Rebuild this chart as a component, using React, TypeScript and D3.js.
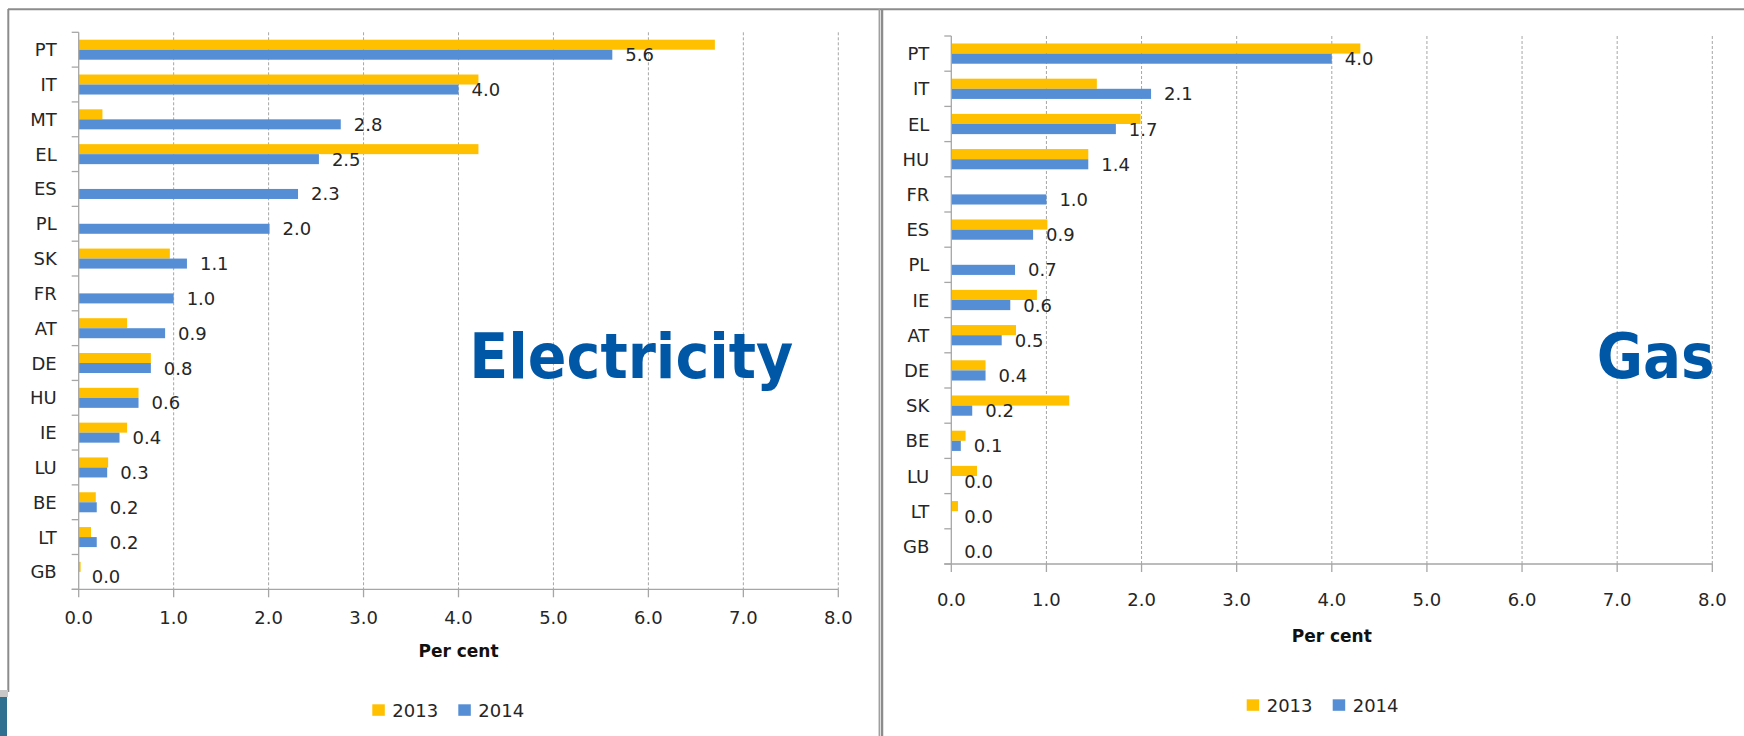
import React from "react";
import * as d3 from "d3";

// ---------- DATA ----------
const elecCategories = ["PT", "IT", "MT", "EL", "ES", "PL", "SK", "FR", "AT", "DE", "HU", "IE", "LU", "BE", "LT", "GB"];
const elec2013 = [6.7, 4.21, 0.25, 4.21, 0, 0, 0.96, 0, 0.51, 0.76, 0.63, 0.51, 0.31, 0.18, 0.13, 0.02];
const elec2014 = [5.62, 4.0, 2.76, 2.53, 2.31, 2.01, 1.14, 1.0, 0.91, 0.76, 0.63, 0.43, 0.3, 0.19, 0.19, 0.0];

const gasCategories = ["PT", "IT", "EL", "HU", "FR", "ES", "PL", "IE", "AT", "DE", "SK", "BE", "LU", "LT", "GB"];
const gas2013 = [4.3, 1.53, 1.99, 1.44, 0, 1.01, 0, 0.9, 0.68, 0.36, 1.24, 0.15, 0.27, 0.07, 0];
const gas2014 = [4.0, 2.1, 1.73, 1.44, 1.0, 0.86, 0.67, 0.62, 0.53, 0.36, 0.22, 0.1, 0, 0, 0];

const xTicks = [0, 1, 2, 3, 4, 5, 6, 7, 8];
const seriesNames = ["2013", "2014"];
const seriesColors = ["#FFC000", "#558ED5"];
const axisTitle = "Per cent";

// ---------- STYLE ----------
const FONT = "'DejaVu Sans', Verdana, sans-serif";
const TEXT = "#262626";
const AXIS = "#a6a6a6";
const GRID = "#a6a6a6";
const FRAME = "#8c8c8c";
const TITLE_COLOR = "#0057A6";

type Layout = {
  x0: number; x1: number; y0: number; y1: number;
  tickLabelDy: number; axisTitleY: number;
  legendX: number; legendY: number; legendGap2: number;
  title: string; titleX: number; titleY: number; titleLen: number;
};

const elecLayout: Layout = {
  x0: 78.7, x1: 838.3, y0: 32.3, y1: 589.3,
  tickLabelDy: 35, axisTitleY: 656.7,
  legendX: 372.3, legendY: 716.7, legendGap2: 86,
  title: "Electricity", titleX: 469.3, titleY: 377.7, titleLen: 324,
};
const gasLayout: Layout = {
  x0: 951.3, x1: 1712.3, y0: 36, y1: 564,
  tickLabelDy: 41.5, axisTitleY: 642.3,
  legendX: 1246.7, legendY: 711.7, legendGap2: 86,
  title: "Gas", titleX: 1596.7, titleY: 378.3, titleLen: 118,
};

function Panel({ cats, v13, v14, L }: { cats: string[]; v13: number[]; v14: number[]; L: Layout }) {
  const x = d3.scaleLinear().domain([0, 8]).range([L.x0, L.x1]);
  const y = d3.scaleBand<string>().domain(cats).range([L.y0, L.y1]).paddingInner(0.425).paddingOuter(0.2125);
  const sub = d3.scaleBand<string>().domain(seriesNames).range([0, y.bandwidth()]);
  const step = y.step();
  const fmt = d3.format(".1f");
  const series = [v13, v14];
  const boundaries = d3.range(cats.length + 1).map((i) => L.y0 + i * step);

  return (
    <g>
      {/* gridlines */}
      {xTicks.filter((t) => t > 0).map((t) => (
        <line key={"g" + t} x1={x(t)} x2={x(t)} y1={L.y0} y2={L.y1} stroke={GRID} strokeWidth={1} strokeDasharray="3,2" />
      ))}
      {/* bars */}
      {series.map((vals, si) =>
        cats.map((c, i) => (
          <rect key={"b" + si + c} x={x(0)} y={(y(c) as number) + (sub(seriesNames[si]) as number)}
            width={Math.max(0, x(vals[i]) - x(0))} height={sub.bandwidth()} fill={seriesColors[si]} />
        ))
      )}
      {/* value labels (2014) */}
      {cats.map((c, i) => (
        <text key={"v" + c} x={x(v14[i]) + 13}
          y={(y(c) as number) + (sub("2014") as number) + sub.bandwidth() / 2 + 6.5}
          fontFamily={FONT} fontSize={18} fill={TEXT}>{fmt(v14[i])}</text>
      ))}
      {/* vertical axis */}
      <line x1={L.x0} x2={L.x0} y1={L.y0} y2={L.y1} stroke={AXIS} strokeWidth={1.3} />
      {boundaries.map((b, i) => (
        <line key={"yt" + i} x1={L.x0 - 7} x2={L.x0} y1={b} y2={b} stroke={AXIS} strokeWidth={1.3} />
      ))}
      {cats.map((c) => (
        <text key={"yl" + c} x={L.x0 - 22} y={(y(c) as number) + y.bandwidth() / 2 + 6.5}
          textAnchor="end" fontFamily={FONT} fontSize={18} fill={TEXT}>{c}</text>
      ))}
      {/* horizontal axis */}
      <line x1={L.x0 - 7} x2={L.x1} y1={L.y1} y2={L.y1} stroke={AXIS} strokeWidth={1.3} />
      {xTicks.map((t) => (
        <g key={"xt" + t}>
          <line x1={x(t)} x2={x(t)} y1={L.y1} y2={L.y1 + 8} stroke={AXIS} strokeWidth={1.3} />
          <text x={x(t)} y={L.y1 + L.tickLabelDy} textAnchor="middle" fontFamily={FONT} fontSize={18} fill={TEXT}>{fmt(t)}</text>
        </g>
      ))}
      <text x={(L.x0 + L.x1) / 2} y={L.axisTitleY} textAnchor="middle" fontFamily={FONT} fontWeight="bold" fontSize={17} fill="#111">{axisTitle}</text>
      {/* legend */}
      {seriesNames.map((s, i) => (
        <g key={"lg" + s} transform={`translate(${L.legendX + i * L.legendGap2},0)`}>
          <rect x={0} y={L.legendY - 12.4} width={12.5} height={11.5} fill={seriesColors[i]} />
          <text x={20} y={L.legendY} fontFamily={FONT} fontSize={18} fill={TEXT}>{s}</text>
        </g>
      ))}
      {/* title */}
      <text x={L.titleX} y={L.titleY} fontFamily={FONT} fontWeight="bold" fontSize={62} fill={TITLE_COLOR}
        textLength={L.titleLen} lengthAdjust="spacingAndGlyphs">{L.title}</text>
    </g>
  );
}

export default function App() {
  return (
    <svg width={1744} height={736} style={{ position: "absolute", left: 0, top: 0, background: "#fff" }}>
      <rect x={0} y={0} width={1744} height={736} fill="#fff" />
      {/* frames */}
      <line x1={8} x2={1744} y1={9.3} y2={9.3} stroke={FRAME} strokeWidth={2} />
      <line x1={8.3} x2={8.3} y1={9} y2={692} stroke={FRAME} strokeWidth={2} />
      <line x1={879.3} x2={879.3} y1={9} y2={736} stroke="#a0a0a0" strokeWidth={1.5} />
      <line x1={882} x2={882} y1={9} y2={736} stroke={FRAME} strokeWidth={2.5} />
      <rect x={0} y={690} width={8} height={7} fill="#c8c8c8" />
      <rect x={0} y={697} width={7} height={39} fill="#2f6f8f" />
      <Panel cats={elecCategories} v13={elec2013} v14={elec2014} L={elecLayout} />
      <Panel cats={gasCategories} v13={gas2013} v14={gas2014} L={gasLayout} />
    </svg>
  );
}
